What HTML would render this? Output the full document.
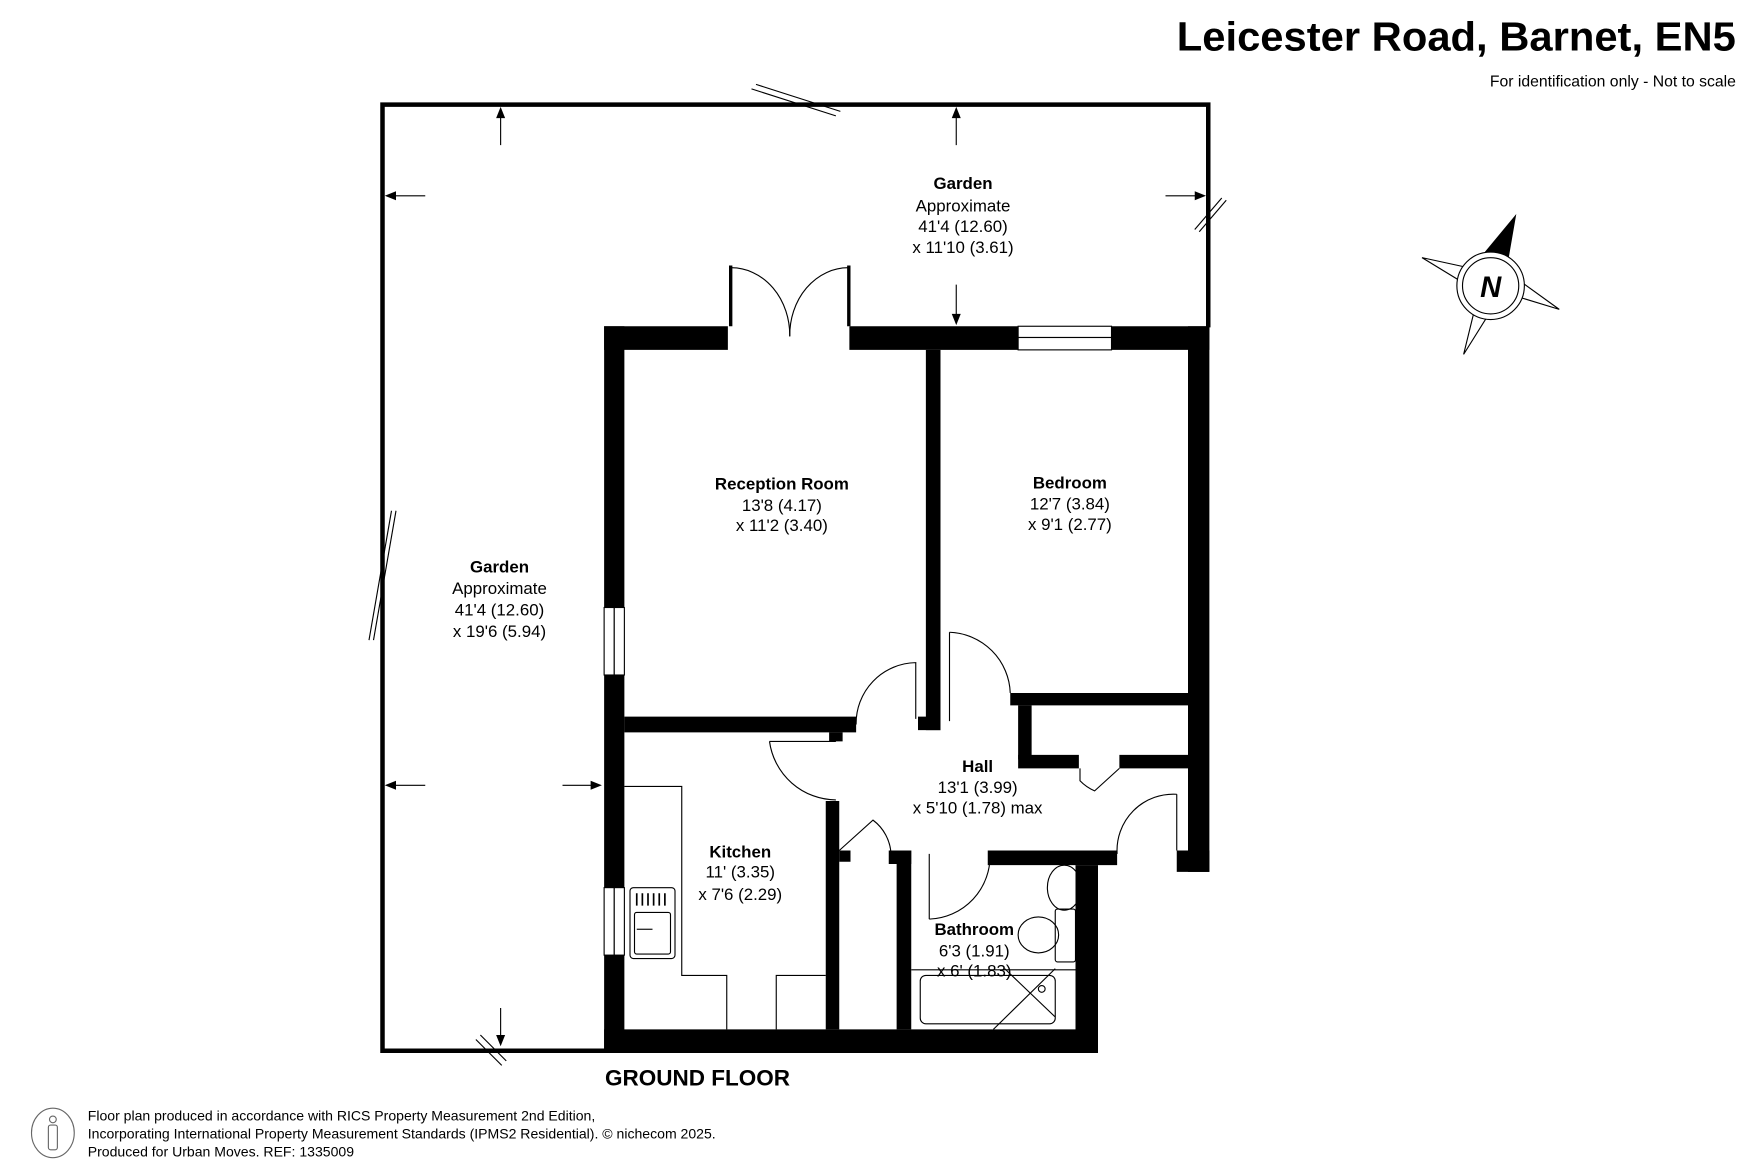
<!DOCTYPE html>
<html><head><meta charset="utf-8"><style>
html,body{margin:0;padding:0;background:#fff;}
svg{display:block;}
text{font-family:"Liberation Sans",Arial,sans-serif;fill:#000;}
</style></head><body>
<svg width="1755" height="1170" viewBox="0 0 1560 1040" xmlns="http://www.w3.org/2000/svg">
<rect width="1560" height="1040" fill="#fff"/>
<text x="1046" y="45" font-size="36" font-weight="bold" textLength="497" lengthAdjust="spacingAndGlyphs">Leicester Road, Barnet, EN5</text>
<text x="1543" y="77" font-size="14" text-anchor="end">For identification only - Not to scale</text>
<g transform="translate(-2,-1)">
<polyline points="540,935 342,935 342,94 1076,94 1076,292" fill="none" stroke="#000" stroke-width="4"/>
<g stroke="#000" stroke-width="1" fill="none">
<line x1="670" y1="80" x2="745" y2="104"/><line x1="674" y1="76" x2="749" y2="100"/>
<line x1="330" y1="570" x2="350" y2="455"/><line x1="334" y1="570" x2="354" y2="455"/>
<line x1="1064" y1="205" x2="1088" y2="177"/><line x1="1068" y1="207" x2="1092" y2="179"/>
<line x1="425" y1="925" x2="448" y2="948"/><line x1="429" y1="921" x2="452" y2="944"/>
</g>
<g stroke="#000" stroke-width="1">
<line x1="447" y1="130" x2="447" y2="100"/><line x1="852" y1="130" x2="852" y2="100"/>
<line x1="380" y1="175" x2="348" y2="175"/><line x1="1038" y1="175" x2="1070" y2="175"/>
<line x1="852" y1="254" x2="852" y2="285"/>
<line x1="380" y1="699" x2="348" y2="699"/><line x1="502" y1="699" x2="533" y2="699"/>
<line x1="447" y1="897" x2="447" y2="928"/>
</g>
<g fill="#000">
<polygon points="447,96 443,106 451,106"/><polygon points="852,96 848,106 856,106"/>
<polygon points="344,175 354,171 354,179"/><polygon points="1074,175 1064,171 1064,179"/>
<polygon points="852,290 848,280 856,280"/>
<polygon points="344,699 354,695 354,703"/><polygon points="537,699 527,695 527,703"/>
<polygon points="447,931 443,921 451,921"/>
</g>
<g fill="#000">
<rect x="539" y="291" width="110" height="21"/>
<rect x="757" y="291" width="150" height="21"/>
<rect x="990" y="291" width="87" height="21"/>
<rect x="539" y="291" width="18" height="646"/>
<rect x="1058" y="291" width="19" height="485"/>
<rect x="539" y="916" width="439" height="21"/>
<rect x="958" y="770" width="20" height="167"/>
<rect x="825" y="312" width="13" height="338"/>
<rect x="818" y="638" width="20" height="12"/>
<rect x="557" y="638" width="206" height="14"/>
<rect x="739" y="652" width="12" height="8"/>
<rect x="900" y="617" width="158" height="11"/>
<rect x="907" y="628" width="12" height="48"/>
<rect x="907" y="672" width="54" height="12"/>
<rect x="997" y="672" width="61" height="12"/>
<rect x="1048" y="757" width="29" height="19"/>
<rect x="736" y="713" width="12" height="203"/>
<rect x="748" y="757" width="10" height="10"/>
<rect x="799" y="757" width="13" height="159"/>
<rect x="792" y="757" width="20" height="12"/>
<rect x="880" y="757" width="115" height="13"/>
<rect x="650" y="237" width="3" height="54"/>
<rect x="755" y="237" width="3" height="54"/>
</g>
<g fill="#fff" stroke="#000" stroke-width="1">
<rect x="907" y="291" width="83" height="10"/><rect x="907" y="301" width="83" height="11"/>
<rect x="539" y="541" width="9" height="60"/><rect x="548" y="541" width="9" height="60"/>
<rect x="539" y="790" width="9" height="60"/><rect x="548" y="790" width="9" height="60"/>
</g>
<g fill="none" stroke="#000" stroke-width="1">
<path d="M652,239 A52,60 0 0 1 704,300"/><path d="M756,239 A52,60 0 0 0 704,300"/>
<path d="M816,640 L816,590 A54,54 0 0 0 763,645"/>
<path d="M846,563 L846,642"/><path d="M846,563 A56,56 0 0 1 900,617"/>
<path d="M686,660 L745,660"/><path d="M686,660 A60,60 0 0 0 745,712"/>
<path d="M748,757 L778,730 A40,40 0 0 1 794,760"/>
<path d="M828,818 A56,56 0 0 0 882,760"/>
<line x1="828" y1="760" x2="828" y2="818"/>
<path d="M962,684 L962,695 A40,40 0 0 0 975,704 L997,684"/>
<path d="M1048,707 A50,50 0 0 0 995,760"/><line x1="1048" y1="707" x2="1048" y2="757"/>
</g>
<g fill="none" stroke="#000" stroke-width="1">
<polyline points="557,700 608,700 608,868 648,868 648,916"/>
<polyline points="692,916 692,868 736,868"/>
<rect x="562" y="790" width="40" height="63" rx="3"/>
<rect x="566" y="812" width="32" height="37" rx="2"/>
<line x1="568" y1="827" x2="582" y2="827"/>
</g>
<g stroke="#000" stroke-width="1.5">
<line x1="568" y1="795" x2="568" y2="806"/><line x1="573" y1="795" x2="573" y2="806"/><line x1="578" y1="795" x2="578" y2="806"/><line x1="583" y1="795" x2="583" y2="806"/><line x1="588" y1="795" x2="588" y2="806"/><line x1="593" y1="795" x2="593" y2="806"/>
</g>
<g fill="none" stroke="#000" stroke-width="1">
<line x1="812" y1="863" x2="958" y2="863"/>
<rect x="820" y="868" width="120" height="43" rx="5"/>
<line x1="885" y1="916" x2="940" y2="862"/><line x1="895" y1="862" x2="940" y2="905"/>
<circle cx="928" cy="880" r="3"/>
<ellipse cx="948" cy="790" rx="15" ry="20"/>
<rect x="940" y="809" width="18" height="47" rx="2"/>
<ellipse cx="925" cy="832" rx="18" ry="16"/>
</g>
<g stroke="#000" stroke-width="1" fill="#fff">
<polygon points="1266,230 1312,240 1307,255"/>
<polygon points="1388,276 1345,245 1342,262"/>
<polygon points="1303,316 1314,271 1328,276"/>
<polygon points="1349,193 1340,245 1315,234" fill="#000"/>
<circle cx="1327" cy="255" r="30"/>
<circle cx="1327" cy="255" r="25"/>
</g>
<text x="1327" y="265" font-size="26" font-weight="bold" font-style="italic" text-anchor="middle">N</text>
<g text-anchor="middle" font-size="15">
<text x="858" y="169" font-weight="bold">Garden</text>
<text x="858" y="189">Approximate</text>
<text x="858" y="207">41'4 (12.60)</text>
<text x="858" y="226">x 11'10 (3.61)</text>
<text x="446" y="510" font-weight="bold">Garden</text>
<text x="446" y="529">Approximate</text>
<text x="446" y="548">41'4 (12.60)</text>
<text x="446" y="567">x 19'6 (5.94)</text>
<text x="697" y="436" font-weight="bold">Reception Room</text>
<text x="697" y="455">13'8 (4.17)</text>
<text x="697" y="473">x 11'2 (3.40)</text>
<text x="953" y="435" font-weight="bold">Bedroom</text>
<text x="953" y="454">12'7 (3.84)</text>
<text x="953" y="472">x 9'1 (2.77)</text>
<text x="871" y="687" font-weight="bold">Hall</text>
<text x="871" y="706">13'1 (3.99)</text>
<text x="871" y="724">x 5'10 (1.78) max</text>
<text x="660" y="763" font-weight="bold">Kitchen</text>
<text x="660" y="781">11' (3.35)</text>
<text x="660" y="801">x 7'6 (2.29)</text>
<text x="868" y="832" font-weight="bold">Bathroom</text>
<text x="868" y="851">6'3 (1.91)</text>
<text x="868" y="869">x 6' (1.83)</text>
</g>
<text x="622" y="966" font-size="20" font-weight="bold" text-anchor="middle">GROUND FLOOR</text>
</g>
<ellipse cx="47" cy="1007" rx="19" ry="22" fill="none" stroke="#666" stroke-width="1"/>
<circle cx="47" cy="995" r="3" fill="none" stroke="#666"/>
<rect x="43" y="1000" width="8" height="22" rx="2" fill="none" stroke="#666"/>
<g font-size="12.5">
<text x="78" y="996" fill="#555">Floor plan produced in accordance with RICS Property Measurement 2nd Edition,</text>
<text x="78" y="1012" fill="#555">Incorporating International Property Measurement Standards (IPMS2 Residential).   © nichecom 2025.</text>
<text x="78" y="1028" fill="#555">Produced for Urban Moves.   REF: 1335009</text>
</g>
</svg>
</body></html>
